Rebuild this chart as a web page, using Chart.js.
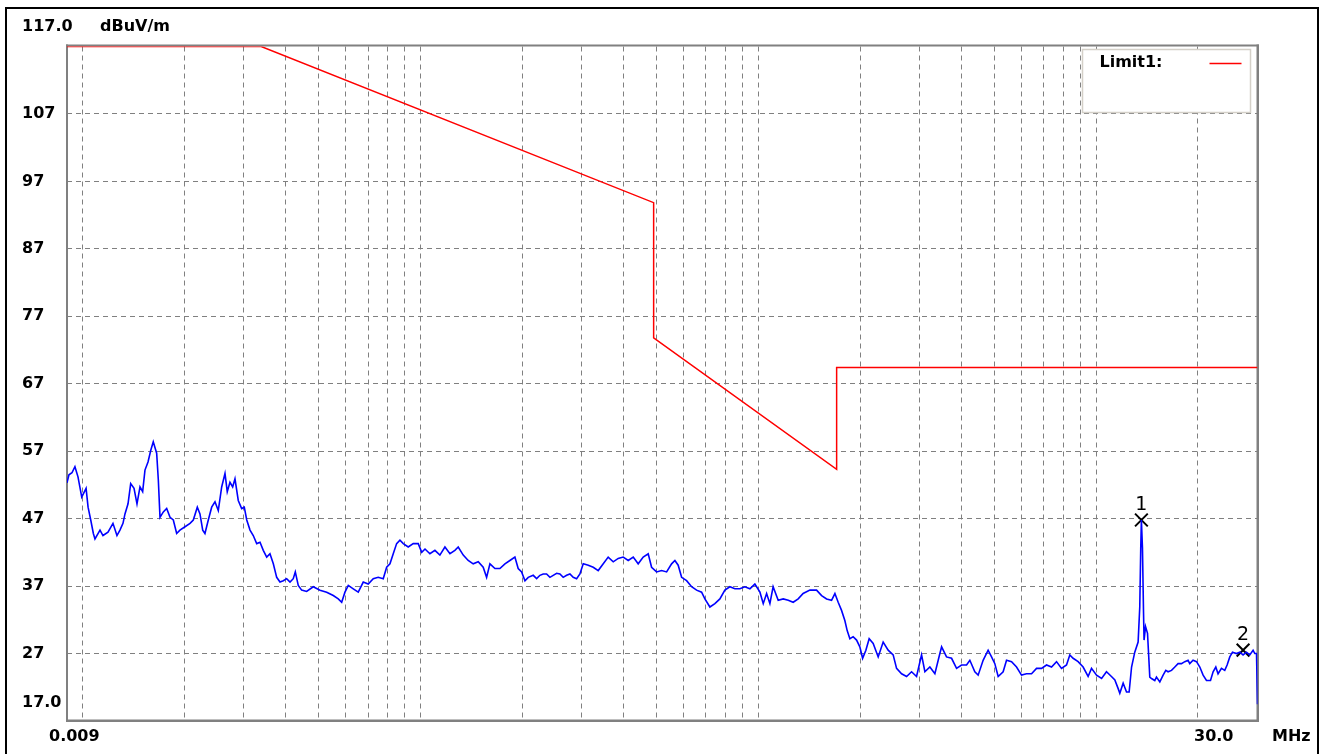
<!DOCTYPE html>
<html><head><meta charset="utf-8">
<script src="https://cdn.jsdelivr.net/npm/chart.js@4.4.1/dist/chart.umd.min.js"></script>
<style>html,body{margin:0;padding:0;background:#fff;overflow:hidden}canvas{display:block}</style>
</head><body>
<canvas id="c" width="1320" height="754"></canvas>
<script>
// ---- data (frequency in MHz, level in dBuV/m) ----
const traceFreq = [
0.00900,0.00912,0.00931,0.00950,0.00970,0.00995,0.01025,0.01039,0.01058,0.01077,0.01089,0.01127,0.01150,0.01190,0.01231,0.01265,0.01291,0.01318,0.01336,0.01364,
0.01389,0.01421,0.01450,0.01480,0.01507,0.01531,0.01563,0.01592,0.01620,0.01658,0.01677,0.01696,0.01735,0.01775,0.01816,0.01857,0.01900,0.01943,0.02011,0.02081,
0.02128,0.02187,0.02227,0.02269,0.02304,0.02357,0.02412,0.02467,0.02523,0.02582,0.02641,0.02682,0.02732,0.02783,0.02827,0.02891,0.02959,0.03012,0.03063,0.03132,
0.03202,0.03278,0.03353,0.03428,0.03509,0.03588,0.03671,0.03756,0.03841,0.03929,0.04020,0.04113,0.04205,0.04264,0.04351,0.04453,0.04607,0.04819,0.05045,0.05280,
0.05523,0.05714,0.05849,0.05981,0.06118,0.06329,0.06548,0.06775,0.07009,0.07252,0.07503,0.07763,0.07946,0.08127,0.08311,0.08505,0.08699,0.08898,0.09205,0.09524,
0.09854,0.1009,0.1032,0.1067,0.1104,0.1142,0.1182,0.1223,0.1265,0.1294,0.1339,0.1385,0.1433,0.1483,0.1534,0.1570,0.1606,0.1662,0.1719,0.1779,
0.1840,0.1904,0.1947,0.1993,0.2039,0.2085,0.2157,0.2208,0.2258,0.2309,0.2363,0.2417,0.2472,0.2530,0.2587,0.2646,0.2708,0.2770,0.2833,0.2899,
0.2965,0.3033,0.3139,0.3247,0.3359,0.3476,0.3595,
0.3721,0.3849,0.3982,0.4121,0.4264,0.4410,0.4564,0.4722,0.4832,0.4999,0.5174,0.5353,0.5538,0.5664,0.5792,0.5929,0.6134,0.6347,0.6566,0.6794,
0.6948,0.7189,0.7438,0.7695,0.7962,0.8237,0.8523,0.8819,0.9125,0.9441,0.9767,1.011,1.034,1.058,1.082,1.106,1.145,1.185,1.226,1.268,
1.312,1.357,1.421,1.487,1.539,1.592,1.647,1.685,1.723,1.763,1.803,1.832,1.866,1.908,1.953,1.997,2.035,2.081,2.128,2.187,
2.263,2.341,2.422,2.506,2.565,2.654,2.746,2.841,2.939,3.041,3.111,3.218,3.330,3.445,3.486,3.605,3.731,3.860,3.993,4.132,
4.226,4.372,4.472,4.626,4.786,4.899,5.010,5.125,5.302,5.426,5.615,5.809,6.009,6.218,6.434,6.657,6.887,7.126,7.373,7.628,
7.892,8.165,8.351,8.541,8.837,9.143,9.460,9.681,10.02,10.37,10.72,11.09,11.35,11.61,11.74,12.01,12.29,12.51,12.72,13.00,
13.30,13.45,13.54,13.60,13.70,13.80,13.85,13.99,14.18,14.40,
14.57,14.90,15.07,15.42,15.77,16.06,16.31,16.70,17.08,17.46,17.87,18.28,18.69,18.91,19.34,19.80,20.25,20.71,21.19,21.78,
22.17,22.58,22.93,23.47,24.00,24.39,24.84,25.30,26.00,26.59,27.19,27.83,28.46,29.11,29.45,29.80,30.0];
const traceLevel = [
52.3,53.5,53.8,54.7,53.2,50.2,51.5,48.7,46.8,44.8,44.0,45.3,44.5,45.0,46.3,44.5,45.3,46.3,47.7,49.2,
52.2,51.5,49.2,51.7,51.0,54.2,55.4,57.1,58.4,56.7,52.7,47.2,48.0,48.5,47.2,46.8,44.8,45.3,45.8,46.3,
46.8,48.7,47.7,45.3,44.8,46.8,48.7,49.5,48.2,51.7,53.7,51.0,52.4,51.7,52.9,49.7,48.5,48.7,46.8,45.3,
44.5,43.3,43.5,42.3,41.3,41.8,40.3,38.3,37.6,37.8,38.1,37.6,38.1,39.1,37.1,36.4,36.2,36.9,36.4,36.1,
35.6,35.1,34.6,36.1,37.1,36.6,36.1,37.6,37.3,38.1,38.3,38.1,39.8,40.3,41.8,43.3,43.8,43.3,42.8,43.3,
43.3,42.0,42.5,41.8,42.3,41.6,42.8,41.8,42.3,42.8,41.6,40.8,40.3,40.6,39.8,38.3,40.3,39.6,39.6,40.3,
40.8,41.3,39.6,39.1,37.8,38.3,38.6,38.1,38.6,38.8,38.8,38.3,38.6,38.9,38.8,38.3,38.6,38.8,38.3,38.1,
38.8,40.3,40.1,39.8,39.3,40.3,41.3,
40.6,41.1,41.3,40.8,41.3,40.3,41.3,41.8,39.8,39.1,39.3,39.1,40.3,40.8,40.1,38.3,37.8,36.9,36.4,36.1,
35.1,33.9,34.4,35.1,36.4,36.9,36.6,36.6,36.9,36.6,37.3,36.1,34.4,35.9,34.4,36.9,34.9,35.1,34.9,34.6,
35.1,35.9,36.4,36.4,35.6,35.1,34.9,35.9,34.6,33.4,31.9,30.4,29.2,29.5,29.0,28.0,26.3,27.5,29.2,28.5,
26.5,28.7,27.5,26.8,24.8,24.0,23.6,24.3,23.6,26.8,24.3,25.0,24.0,27.0,28.0,26.5,26.3,24.8,25.3,25.3,
26.0,24.3,23.8,26.0,27.5,26.5,25.5,23.6,24.3,26.0,25.8,25.0,23.8,24.0,24.0,24.8,24.8,25.3,25.0,25.8,
24.8,25.3,26.8,26.3,25.8,25.0,23.6,24.8,23.8,23.3,24.3,23.6,23.1,21.8,21.1,22.6,21.3,21.3,25.0,27.2,
28.7,33.9,42.6,46.8,42.6,33.0,29.0,31.0,30.0,23.5,
23.3,23.0,23.5,22.8,23.8,24.5,24.3,24.5,25.0,25.5,25.5,25.8,26.0,25.5,26.0,25.8,25.0,23.8,23.0,23.0,
24.3,25.0,24.0,24.8,24.5,25.3,26.5,27.2,27.0,27.2,26.8,27.2,26.8,27.5,27.0,27.0,19.5];
const limitFreq  = [0.009, 0.0338, 0.49, 0.49, 1.705, 1.705, 30];
const limitLevel = [117, 117, 93.85, 73.8, 54.3, 69.4, 69.4];
const markerFreq  = [13.60, 27.19];
const markerLevel = [46.8, 27.5];
const markerNames = ['1', '2'];
const xGridFreqs = [0.01,0.02,0.03,0.04,0.05,0.06,0.07,0.08,0.09,
  0.1,0.2,0.3,0.4,0.5,0.6,0.7,0.8,0.9,
  1,2,3,4,5,6,7,8,9,10,20];
const yGridValues = [27,37,47,57,67,77,87,97,107];
const yTickValues = [117,107,97,87,77,67,57,47,37,27,17];
const yTickLabels = ['117.0','107','97','87','77','67','57','47','37','27','17.0'];
const xTickLabels = ['0.009','30.0'];
const yUnit = 'dBuV/m';
const xUnit = 'MHz';
const legendLabel = 'Limit1:';

const toXY = (xs, ys) => xs.map((x, i) => ({x: x, y: ys[i]}));
const BOLD = 'bold 16px "DejaVu Sans"';

const decor = {
  id: 'decor',
  beforeDraw(chart) {
    const ctx = chart.ctx;
    ctx.save();
    ctx.fillStyle = '#ffffff';
    ctx.fillRect(0, 0, chart.width, chart.height);
    ctx.fillStyle = '#000000';
    ctx.fillRect(5, 7, 2, chart.height - 7);
    ctx.fillRect(5, 7, 1314, 2);
    ctx.fillRect(1317, 7, 2, chart.height - 7);
    ctx.restore();
  },
  beforeDatasetsDraw(chart) {
    const ctx = chart.ctx, a = chart.chartArea;
    ctx.save();
    ctx.fillStyle = '#808080';
    ctx.fillRect(a.left - 1, a.top - 2, 2, a.bottom - a.top + 3);
    ctx.fillRect(a.left - 1, a.top - 2, a.right - a.left + 2.5, 2);
    ctx.fillRect(a.right - 1, a.top - 2, 2.5, a.bottom - a.top + 3);
    ctx.fillRect(a.left - 1, a.bottom - 1.5, a.right - a.left + 2.5, 2.5);
    ctx.restore();
  },
  afterDatasetsDraw(chart) {
    const ctx = chart.ctx, a = chart.chartArea;
    const ys = chart.scales.y;
    ctx.save();
    // legend box
    const lx = a.right - 175, ly = a.top + 3, lw = 168, lh = 63;
    ctx.fillStyle = '#ffffff';
    ctx.fillRect(lx, ly, lw, lh);
    ctx.strokeStyle = '#d4d0c8';
    ctx.lineWidth = 1.5;
    ctx.strokeRect(lx, ly, lw, lh);
    ctx.fillStyle = '#000';
    ctx.font = BOLD;
    ctx.textBaseline = 'middle';
    ctx.textAlign = 'left';
    ctx.fillText(legendLabel, lx + 17, ly + 13);
    ctx.strokeStyle = '#ff0000';
    ctx.lineWidth = 1.5;
    ctx.beginPath();
    ctx.moveTo(lx + 127, ly + 14);
    ctx.lineTo(lx + 159, ly + 14);
    ctx.stroke();
    // y labels
    ctx.fillStyle = '#000';
    yTickValues.forEach((v, i) => {
      let y = ys.getPixelForValue(v);
      if (v === ys.max) y = a.top - 19.5;
      if (v === ys.min) y = a.bottom - 18;
      ctx.fillText(yTickLabels[i], 22, y);
    });
    ctx.fillText(yUnit, 100, a.top - 19.5);
    // x labels
    ctx.fillText(xTickLabels[0], a.left - 18, a.bottom + 16);
    ctx.textAlign = 'right';
    ctx.fillText(xTickLabels[1], a.right - 24, a.bottom + 16);
    ctx.textAlign = 'left';
    ctx.fillText(xUnit, 1272, a.bottom + 16);
    // marker names
    ctx.font = '19px "DejaVu Sans"';
    ctx.textAlign = 'center';
    const meta = chart.getDatasetMeta(2);
    meta.data.forEach((pt, i) => {
      ctx.fillText(markerNames[i], pt.x, pt.y - 15);
    });
    ctx.restore();
  }
};

const gridOpts = {color: '#808080', lineWidth: 1, drawTicks: false};
const borderOpts = {display: false, dash: [5, 4]};

new Chart(document.getElementById('c'), {
  type: 'line',
  data: {
    datasets: [
      {label: 'Trace', data: toXY(traceFreq, traceLevel), borderColor: '#0000ff', borderWidth: 1.6,
       pointRadius: 0, tension: 0, fill: false},
      {label: 'Limit1', data: toXY(limitFreq, limitLevel), borderColor: '#ff0000', borderWidth: 1.5,
       pointRadius: 0, tension: 0, fill: false},
      {label: 'Markers', data: toXY(markerFreq, markerLevel), showLine: false, pointStyle: 'crossRot',
       pointRadius: 9, pointBorderWidth: 2, borderColor: '#000', backgroundColor: '#000', clip: false}
    ]
  },
  options: {
    responsive: false, animation: false, devicePixelRatio: 1,
    layout: {padding: {left: 67, right: 62.5, top: 46.5, bottom: 33}},
    plugins: {legend: {display: false}, tooltip: {enabled: false}},
    scales: {
      x: {type: 'logarithmic', min: 0.009, max: 30,
          afterBuildTicks: s => { s.ticks = xGridFreqs.map(v => ({value: v})); },
          ticks: {display: false}, grid: gridOpts, border: borderOpts},
      y: {type: 'linear', min: 17, max: 117,
          afterBuildTicks: s => { s.ticks = yGridValues.map(v => ({value: v})); },
          ticks: {display: false}, grid: gridOpts, border: borderOpts}
    }
  },
  plugins: [decor]
});
</script>
</body></html>
